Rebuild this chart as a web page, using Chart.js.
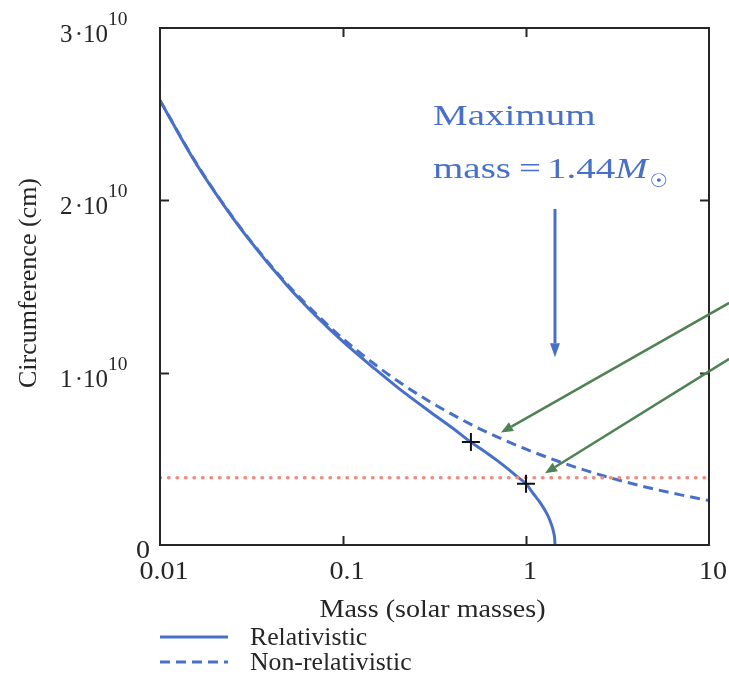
<!DOCTYPE html>
<html>
<head>
<meta charset="utf-8">
<script src="https://cdn.jsdelivr.net/npm/chart.js@4.4.1/dist/chart.umd.min.js"></script>
<style>
  html, body { margin: 0; padding: 0; background: #ffffff; }
  #wrap { width: 729px; height: 699px; position: relative; }
</style>
</head>
<body>
<div id="wrap"><canvas id="chart" width="729" height="699"></canvas></div>
<script>
// White dwarf mass–circumference relation (mass in solar masses, circumference in cm)
const massRelativistic = [0.01, 0.015, 0.02, 0.03, 0.05, 0.07, 0.1, 0.15, 0.2, 0.3, 0.4, 0.5, 0.6, 0.7, 0.8, 0.9, 1.0, 1.1, 1.2, 1.3, 1.35, 1.4, 1.42, 1.435, 1.44];
const circRelativistic = [2.58e10, 2.25e10, 2.045e10, 1.785e10, 1.50e10, 1.337e10, 1.18e10, 1.02e10, 0.912e10, 0.772e10, 0.676e10, 0.597e10, 0.54e10, 0.488e10, 0.44e10, 0.395e10, 0.355e10, 0.296e10, 0.243e10, 0.182e10, 0.144e10, 0.095e10, 0.067e10, 0.035e10, 0];

const massNonRelativistic = [0.01, 0.015, 0.02, 0.03, 0.05, 0.07, 0.1, 0.15, 0.2, 0.3, 0.5, 0.7, 1, 1.5, 2, 3, 5, 7, 10];
const circNonRelativistic = [2.58e10, 2.254e10, 2.048e10, 1.789e10, 1.509e10, 1.349e10, 1.197e10, 1.046e10, 0.95e10, 0.83e10, 0.70e10, 0.626e10, 0.556e10, 0.486e10, 0.441e10, 0.385e10, 0.325e10, 0.291e10, 0.258e10];

// Marked stars on the relativistic curve
const markedMass = [0.5, 1.0];
const markedCirc = [0.597e10, 0.355e10];

// Horizontal reference level
const referenceCirc = 0.39e10;

// Axis ticks
const xTickValues = [0.01, 0.1, 1, 10];
const xTickLabels = ['0.01', '0.1', '1', '10'];
const yTickValues = [0, 1e10, 2e10, 3e10];
const yTickMantissa = ['0', '1', '2', '3'];

// Annotations (data coordinates)
const chandrasekharMass = 1.44;
const maxMassArrow = [[1.44, 1.95e10], [1.44, 1.09e10]];
const pointerArrows = [
  [[12.9, 1.405e10], [0.73, 0.653e10]],
  [[12.9, 1.08e10], [1.27, 0.416e10]]
];

const BLUE = 'rgb(72,112,200)';
const GREEN = 'rgb(78,130,82)';
const INK = '#262626';
const SERIF = '"Liberation Serif", "DejaVu Serif", serif';
const SX = 1.08; // horizontal widening of set type

function putText(ctx, str, x, y, size, align, opts) {
  opts = opts || {};
  const sx = opts.sx || SX;
  ctx.save();
  ctx.font = (opts.style ? opts.style + ' ' : '') + size + 'px ' + (opts.family || SERIF);
  ctx.fillStyle = opts.color || INK;
  const w = ctx.measureText(str).width * sx;
  let x0 = x;
  if (align === 'center') x0 = x - w / 2;
  else if (align === 'right') x0 = x - w;
  ctx.translate(x0, y);
  ctx.scale(sx, 1);
  ctx.textAlign = 'left';
  ctx.textBaseline = 'alphabetic';
  ctx.fillText(str, 0, 0);
  ctx.restore();
  return w;
}

function arrow(ctx, x1, y1, x2, y2, color, width, headLen, headHalf) {
  const ang = Math.atan2(y2 - y1, x2 - x1);
  const bx = x2 - headLen * Math.cos(ang);
  const by = y2 - headLen * Math.sin(ang);
  ctx.save();
  ctx.strokeStyle = color;
  ctx.fillStyle = color;
  ctx.lineWidth = width;
  ctx.beginPath();
  ctx.moveTo(x1, y1);
  ctx.lineTo(bx, by);
  ctx.stroke();
  ctx.beginPath();
  ctx.moveTo(x2, y2);
  ctx.lineTo(bx + headHalf * Math.sin(ang), by - headHalf * Math.cos(ang));
  ctx.lineTo(bx - headHalf * Math.sin(ang), by + headHalf * Math.cos(ang));
  ctx.closePath();
  ctx.fill();
  ctx.restore();
}

const framePlugin = {
  id: 'frameAndLabels',
  afterDraw(chart) {
    const { ctx, chartArea: a } = chart;
    const xs = chart.scales.x, ys = chart.scales.y;

    // frame
    ctx.save();
    ctx.strokeStyle = INK;
    ctx.lineWidth = 2;
    ctx.strokeRect(a.left, a.top, a.right - a.left, a.bottom - a.top);

    // inward tick marks on all four sides
    const tl = 9;
    ctx.beginPath();
    xTickValues.forEach(v => {
      const px = Math.round(xs.getPixelForValue(v)) + 0.5;
      if (px <= a.left + 2 || px >= a.right - 2) return;
      ctx.moveTo(px, a.bottom); ctx.lineTo(px, a.bottom - tl);
      ctx.moveTo(px, a.top); ctx.lineTo(px, a.top + tl);
    });
    yTickValues.forEach(v => {
      const py = Math.round(ys.getPixelForValue(v)) + 0.5;
      if (py <= a.top + 2 || py >= a.bottom - 2) return;
      ctx.moveTo(a.left, py); ctx.lineTo(a.left + tl, py);
      ctx.moveTo(a.right, py); ctx.lineTo(a.right - tl, py);
    });
    ctx.stroke();
    ctx.restore();

    // x tick labels
    xTickValues.forEach((v, i) => {
      const px = xs.getPixelForValue(v);
      putText(ctx, xTickLabels[i], px + 4, a.bottom + 34, 26, 'center');
    });

    // y tick labels, written as mantissa·10^10
    yTickValues.forEach((v, i) => {
      const py = ys.getPixelForValue(v);
      if (v === 0) {
        putText(ctx, yTickMantissa[i], 150, py + 13, 26, 'right');
      } else {
        putText(ctx, yTickMantissa[i] + '\u200A\u00B710', 108, py + 14, 25, 'right', { sx: 1.0 });
        putText(ctx, '10', 108, py - 3, 18, 'left');
      }
    });

    // axis titles
    putText(ctx, 'Mass (solar masses)', (a.left + a.right) / 2 - 2, a.bottom + 72, 26, 'center', { sx: 1.08 });
    ctx.save();
    ctx.translate(36, 283);
    ctx.rotate(-Math.PI / 2);
    putText(ctx, 'Circumference (cm)', 0, 0, 26, 'center', { sx: 1.0 });
    ctx.restore();

    // legend under the x-axis title
    const legendSets = chart.data.datasets.filter(d => d.inLegend);
    legendSets.forEach((d, i) => {
      const y = 637 + i * 25;
      ctx.save();
      ctx.strokeStyle = d.borderColor;
      ctx.lineWidth = d.borderWidth;
      ctx.setLineDash(d.borderDash || []);
      ctx.beginPath();
      ctx.moveTo(160, y);
      ctx.lineTo(228, y);
      ctx.stroke();
      ctx.restore();
      putText(ctx, d.label, 250, y + 8, 25, 'left', { sx: 1.03 });
    });

    // arrows
    const [[ax1, ay1], [ax2, ay2]] = maxMassArrow;
    arrow(ctx, xs.getPixelForValue(ax1), ys.getPixelForValue(ay1),
          xs.getPixelForValue(ax2), ys.getPixelForValue(ay2), BLUE, 3, 14, 5);
    pointerArrows.forEach(([[x1, y1], [x2, y2]]) => {
      arrow(ctx, xs.getPixelForValue(x1), ys.getPixelForValue(y1),
            xs.getPixelForValue(x2), ys.getPixelForValue(y2), GREEN, 2.5, 12, 5);
    });

    // maximum mass note
    const tx = 433;
    putText(ctx, 'Maximum', tx, 125, 30, 'left', { color: BLUE, sx: 1.3 });
    let cx = tx;
    cx += putText(ctx, 'mass', cx, 178, 30, 'left', { color: BLUE, sx: 1.3 });
    cx += 8;
    cx += putText(ctx, '=', cx, 178, 30, 'left', { color: BLUE, sx: 1.3 });
    cx += 6;
    cx += putText(ctx, chandrasekharMass.toFixed(2), cx, 178, 30, 'left', { color: BLUE, sx: 1.3 });
    cx += putText(ctx, 'M', cx, 178, 30, 'left', { color: BLUE, sx: 1.3, style: 'italic' });
    putText(ctx, '\u2609', cx + 2, 187, 19, 'left', { color: BLUE, sx: 1.1, family: '"DejaVu Sans", sans-serif' });
  }
};

new Chart(document.getElementById('chart'), {
  type: 'scatter',
  data: {
    datasets: [
      {
        label: 'marked',
        data: markedMass.map((m, i) => ({ x: m, y: markedCirc[i] })),
        pointStyle: 'cross',
        pointRadius: 9,
        pointBorderWidth: 2,
        borderColor: '#111111',
        backgroundColor: '#111111',
        showLine: false,
        order: 0
      },
      {
        label: 'Relativistic',
        inLegend: true,
        data: massRelativistic.map((m, i) => ({ x: m, y: circRelativistic[i] })),
        showLine: true,
        borderColor: BLUE,
        borderWidth: 3,
        pointRadius: 0,
        cubicInterpolationMode: 'monotone',
        order: 2
      },
      {
        label: 'Non-relativistic',
        inLegend: true,
        data: massNonRelativistic.map((m, i) => ({ x: m, y: circNonRelativistic[i] })),
        showLine: true,
        borderColor: BLUE,
        borderWidth: 3,
        borderDash: [10, 6],
        pointRadius: 0,
        cubicInterpolationMode: 'monotone',
        order: 3
      },
      {
        label: 'reference',
        data: [{ x: xTickValues[0], y: referenceCirc }, { x: xTickValues[xTickValues.length - 1], y: referenceCirc }],
        showLine: true,
        borderColor: 'rgb(238,140,128)',
        borderWidth: 3.5,
        borderDash: [0.5, 8],
        borderCapStyle: 'round',
        pointRadius: 0,
        order: 1
      }
    ]
  },
  options: {
    responsive: false,
    animation: false,
    devicePixelRatio: 1,
    layout: { padding: { left: 160, top: 28, right: 20, bottom: 154 } },
    plugins: { legend: { display: false }, tooltip: { enabled: false } },
    scales: {
      x: { type: 'logarithmic', min: 0.01, max: 10, display: false },
      y: { type: 'linear', min: 0, max: 3e10, display: false }
    }
  },
  plugins: [framePlugin]
});
</script>
</body>
</html>
